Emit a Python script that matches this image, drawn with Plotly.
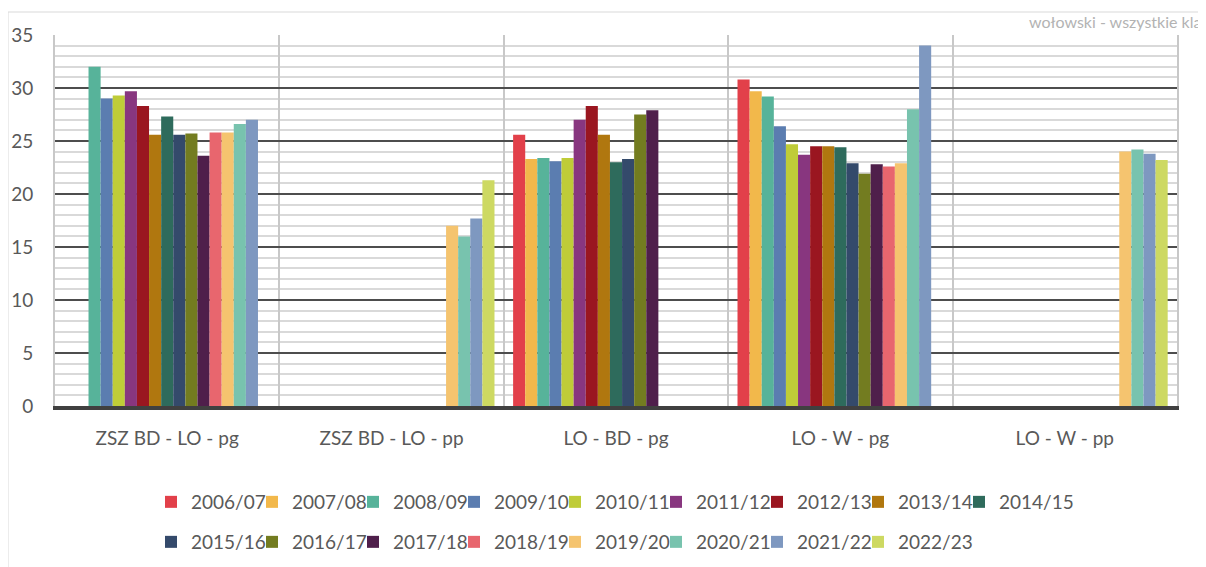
import plotly.graph_objects as go

# categories on the x axis
categories = ["ZSZ BD - LO - pg", "ZSZ BD - LO - pp", "LO - BD - pg", "LO - W - pg", "LO - W - pp"]

# school years (one bar series each)
seasons = ["2006/07", "2007/08", "2008/09", "2009/10", "2010/11", "2011/12",
           "2012/13", "2013/14", "2014/15", "2015/16", "2016/17", "2017/18",
           "2018/19", "2019/20", "2020/21", "2021/22", "2022/23"]

# values per season, one per category (None = no bar)
v_2006_07 = [None, None, 25.6, 30.8, None]
v_2007_08 = [None, None, 23.3, 29.7, None]
v_2008_09 = [32.0, None, 23.4, 29.2, None]
v_2009_10 = [29.0, None, 23.1, 26.4, None]
v_2010_11 = [29.3, None, 23.4, 24.7, None]
v_2011_12 = [29.7, None, 27.0, 23.7, None]
v_2012_13 = [28.3, None, 28.3, 24.5, None]
v_2013_14 = [25.6, None, 25.6, 24.5, None]
v_2014_15 = [27.3, None, 23.0, 24.4, None]
v_2015_16 = [25.6, None, 23.3, 22.9, None]
v_2016_17 = [25.7, None, 27.5, 21.9, None]
v_2017_18 = [23.6, None, 27.9, 22.8, None]
v_2018_19 = [25.8, None, None, 22.6, None]
v_2019_20 = [25.8, 17.0, None, 22.9, 24.0]
v_2020_21 = [26.6, 16.0, None, 28.0, 24.2]
v_2021_22 = [27.0, 17.7, None, 34.0, 23.8]
v_2022_23 = [None, 21.3, None, None, 23.2]

values = [v_2006_07, v_2007_08, v_2008_09, v_2009_10, v_2010_11, v_2011_12,
          v_2012_13, v_2013_14, v_2014_15, v_2015_16, v_2016_17, v_2017_18,
          v_2018_19, v_2019_20, v_2020_21, v_2021_22, v_2022_23]

colors = ["#E2404A", "#F2B84B", "#57B39A", "#5B7DB0", "#BFCC38", "#88367F",
          "#9A1620", "#B0770F", "#2E6B5C", "#344A6B", "#737C20", "#4F1F4B",
          "#E8666E", "#F5C46F", "#78C3AE", "#7E98C0", "#CDD962"]

# the page body adds an 8px margin, so the figure is a bit smaller
OFF = 8
W, H = 1206 - OFF, 567 - OFF
L, R, T, B = 47, 29, 27, 161
FONT = "Lato"
TEXT = "#595959"


def px_x(px):
    # page pixel -> paper fraction
    return (px - OFF - L) / (W - L - R)


def px_y(py):
    return (H - B - (py - OFF)) / (H - T - B)


fig = go.Figure()

for i, (name, vals, col) in enumerate(zip(seasons, values, colors)):
    fig.add_trace(go.Bar(
        x=categories,
        y=vals,
        name=name,
        marker=dict(color=col, line=dict(width=0)),
        legend="legend" if i < 9 else "legend2",
    ))

# empty entries so the last label of each legend row is not clipped
for lg in ["legend", "legend2"]:
    fig.add_trace(go.Scatter(
        x=[None], y=[None], mode="markers", name=" ",
        marker=dict(color="rgba(0,0,0,0)", size=1, opacity=0),
        hoverinfo="skip", legend=lg,
    ))

legend_style = dict(
    orientation="h",
    xanchor="left",
    yanchor="middle",
    font=dict(family=FONT, size=19, color=TEXT),
    entrywidth=56,
    entrywidthmode="pixels",
    bgcolor="rgba(0,0,0,0)",
    itemclick=False,
    traceorder="normal",
)

fig.update_layout(
    width=W,
    height=H,
    margin=dict(l=L, r=R, t=T, b=B, autoexpand=False),
    paper_bgcolor="white",
    plot_bgcolor="white",
    barmode="group",
    bargap=0.083,
    bargroupgap=0,
    font=dict(family=FONT, size=19, color=TEXT),
    legend=dict(x=px_x(151), y=px_y(502), **legend_style),
    legend2=dict(x=px_x(151), y=px_y(542), **legend_style),
    xaxis=dict(
        type="category",
        tickson="boundaries",
        ticks="",
        showgrid=True,
        gridcolor="#c8c8c8",
        gridwidth=2,
        showline=True,
        linecolor="#404040",
        linewidth=4,
        ticklabelstandoff=12,
        tickfont=dict(family=FONT, size=19, color=TEXT),
        fixedrange=True,
    ),
    yaxis=dict(
        range=[0, 35],
        dtick=5,
        showgrid=True,
        gridcolor="#4d4d4d",
        gridwidth=1.5,
        minor=dict(dtick=1, showgrid=True, gridcolor="#d9d9d9", gridwidth=2),
        showline=True,
        linecolor="#c8c8c8",
        linewidth=2,
        mirror=True,
        zeroline=False,
        ticks="",
        ticklabelstandoff=16,
        tickfont=dict(family=FONT, size=19, color=TEXT),
        fixedrange=True,
    ),
    showlegend=True,
)

# chart caption, cut at the right edge as in the source
fig.add_annotation(
    text="wołowski - wszystkie klasy",
    xref="paper", yref="paper",
    x=px_x(1027), y=px_y(22),
    xanchor="left", yanchor="middle",
    showarrow=False,
    font=dict(family=FONT, size=16, color="#b3b3b3"),
)

# light chart-area border
fig.add_shape(
    type="rect", xref="paper", yref="paper",
    x0=px_x(8), x1=px_x(1240), y0=px_y(620), y1=px_y(12),
    line=dict(color="#d9d9d9", width=1),
    layer="below",
)

fig.write_html("out.html")
